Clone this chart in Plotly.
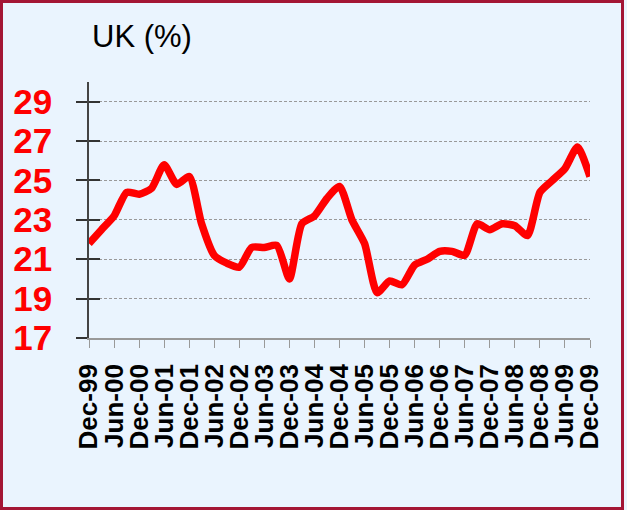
import pandas as pd
import plotly.graph_objects as go

# quarterly observations, Dec-99 .. Dec-09
quarters = pd.date_range("1999-12-01", periods=41, freq="3MS")
uk_values = [21.8, 22.5, 23.2, 24.4, 24.3, 24.6, 25.8, 24.8, 25.2, 22.8,
             21.2, 20.8, 20.6, 21.6, 21.6, 21.7, 20.0, 22.8, 23.2, 24.1,
             24.7, 23.0, 21.8, 19.3, 19.9, 19.7, 20.7, 21.0, 21.4, 21.4,
             21.2, 22.8, 22.5, 22.8, 22.7, 22.2, 24.4, 25.0, 25.6, 26.7,
             25.2]
tick_labels = ["Dec-99", "Jun-00", "Dec-00", "Jun-01", "Dec-01", "Jun-02",
               "Dec-02", "Jun-03", "Dec-03", "Jun-04", "Dec-04", "Jun-05",
               "Dec-05", "Jun-06", "Dec-06", "Jun-07", "Dec-07", "Jun-08",
               "Dec-08", "Jun-09", "Dec-09"]
y_ticks = [17, 19, 21, 23, 25, 27, 29]

W, H = 627, 510
L, R, T, B = 89, 37, 82, 172
pw, ph = W - L - R, H - T - B

bg = "#EAF4FE"
font = "Liberation Sans, Arial, sans-serif"

trace = go.Scatter(x=quarters, y=uk_values, mode="lines",
                   line=dict(color="#FF0000", width=7.5, shape="spline", smoothing=0.6),
                   hoverinfo="skip", showlegend=False)
# invisible trace to carry the inner half of the y ticks
trace2 = go.Scatter(x=quarters, y=uk_values, yaxis="y2", mode="lines",
                    line=dict(width=0), hoverinfo="skip", showlegend=False)

layout = dict(
    width=W, height=H,
    margin=dict(l=L, r=R, t=T, b=B, pad=0),
    paper_bgcolor=bg, plot_bgcolor=bg,
    xaxis=dict(range=[quarters[0], quarters[-1]],
               tickvals=list(quarters[::2]), ticktext=tick_labels,
               tickangle=-90, ticks="outside", ticklen=8, tickcolor="#999999",
               ticklabelstandoff=6,
               showline=True, linecolor="#999999", linewidth=1.5,
               showgrid=False, zeroline=False,
               tickfont=dict(family=font, size=26, color="black", weight="bold")),
    yaxis=dict(range=[17, 30], tickvals=y_ticks,
               ticks="outside", ticklen=11, tickcolor="#333333", tickwidth=1.5,
               ticklabelstandoff=17,
               showline=True, linecolor="#444444", linewidth=1.5,
               showgrid=True, gridcolor="#999999", griddash="3px,2px", gridwidth=1,
               zeroline=False,
               tickfont=dict(family=font, size=35, color="#FF0000", weight="bold")),
    yaxis2=dict(range=[17, 30], tickvals=y_ticks, overlaying="y", side="left",
                ticks="inside", ticklen=11, tickcolor="#333333", tickwidth=1.5,
                showticklabels=False, showgrid=False, zeroline=False, showline=False),
    annotations=[dict(text="UK (%)", xref="paper", yref="paper",
                      x=(90 - L) / pw, y=(H - B - 36) / ph,
                      xanchor="left", yanchor="middle", showarrow=False,
                      font=dict(family=font, size=31, color="black"))],
    shapes=[dict(type="rect", xref="paper", yref="paper",
                 x0=(1.5 - L) / pw, x1=(622.5 - L) / pw,
                 y0=(H - B - 508.5) / ph, y1=(H - B - 1.5) / ph,
                 line=dict(color="#A31535", width=3), layer="below")],
)

fig = go.Figure(data=[trace, trace2], layout=layout)
fig.write_html("out.html", config={"displayModeBar": False},
               post_script="document.body.style.margin='0px';")
